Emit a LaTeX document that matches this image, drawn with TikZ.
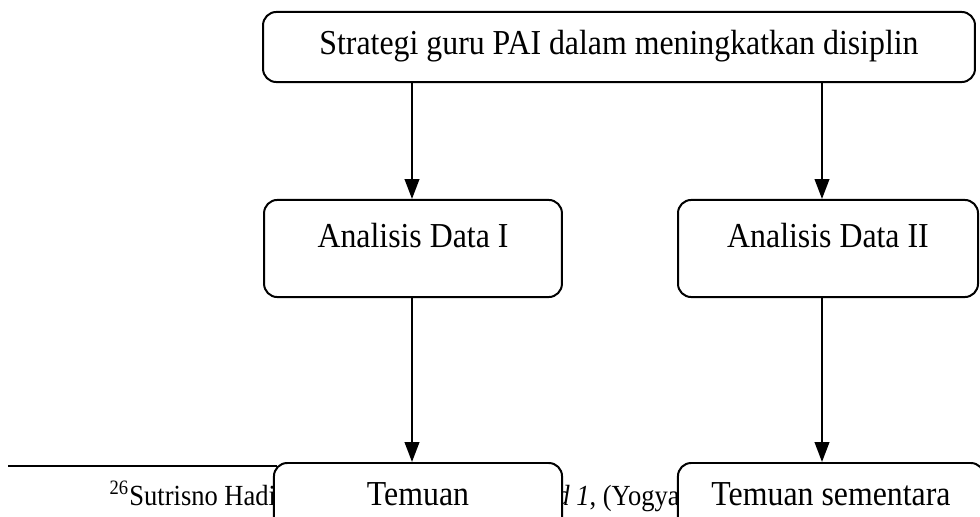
\documentclass[tikz,border=0pt]{standalone}
\usepackage{fontspec}
\setmainfont{Liberation Serif}
\usepackage{tikz}
\usetikzlibrary{arrows.meta}
\newcommand{\tall}[1]{\scalebox{1}[1.1]{#1}}
\tikzset{box/.style = {shape=rectangle,draw,fill=white,rounded corners=5pt,line width=0.75pt,
  font=\fontsize{12pt}{14pt}\selectfont,text height=7.5pt,text depth=8.5pt,
  minimum width=112.3pt,minimum height=36.6pt,inner sep=0pt}}
\tikzset{arrow/.style = {line width=0.75pt,-{Triangle[length=7.5pt,width=5.5pt]}}}
\tikzset{fnrule/.style = {line width=0.6pt}}

\begin{document}
\begin{tikzpicture}[x=0.377pt,y=-0.377pt]
\useasboundingbox (0,0) rectangle (980,517);
% footnote
\coordinate (ruleA) at (8,466);
\coordinate (ruleB) at (277,466);
\draw[fnrule] (ruleA) -- (ruleB);
\node[anchor=base west,inner sep=0pt,font=\fontsize{10pt}{12pt}\selectfont] (fn) at (109,505)
  {\tall{\textsuperscript{26}Sutrisno Hadi, \textit{Metodologi Research Jilid 1}, (Yogyakarta}};
% boxes
\node[box,minimum width=268.4pt,minimum height=26.4pt,text height=8.3pt,text depth=2.6pt] (strategi) at (619,47)
  {\tall{Strategi guru PAI dalam meningkatkan disiplin}};
\node[box] (dataI) at (413,248.5) {\tall{Analisis Data I}};
\node[box,minimum width=113.1pt] (dataII) at (828,248.5) {\tall{Analisis Data II}};
\node[box,minimum width=108.6pt,minimum height=32.8pt] (temuanI) at (418,506.5) {\tall{Temuan}};
\node[box,minimum width=115.4pt,minimum height=32.8pt] (temuanII) at (831,506.5) {\tall{Temuan sementara}};
%arrows
\coordinate (kiri) at (412,0);
\coordinate (kanan) at (822,0);
\draw[arrow] (strategi.south -| kiri) -- (dataI.north -| kiri);
\draw[arrow] (strategi.south -| kanan) -- (dataII.north -| kanan);
\draw[arrow] (dataI.south -| kiri) -- (temuanI.north -| kiri);
\draw[arrow] (dataII.south -| kanan) -- (temuanII.north -| kanan);
\end{tikzpicture}
\end{document}
